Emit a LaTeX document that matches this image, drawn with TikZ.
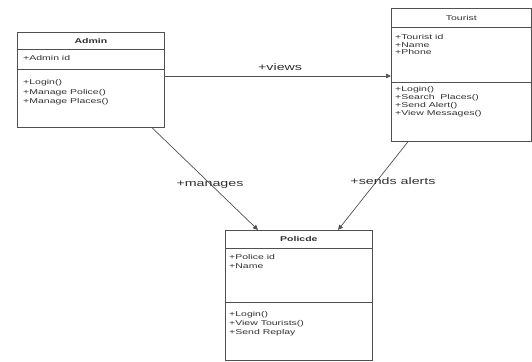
\documentclass[tikz,border=0pt]{standalone}
\usepackage{fontspec}
\setmainfont{Liberation Sans}[FakeStretch=1.5]
\newfontfamily\lblfont{Liberation Sans}[FakeStretch=1.5]
\usetikzlibrary{arrows.meta}
\definecolor{linecol}{HTML}{505050}
\definecolor{txtcol}{HTML}{303030}
\tikzset{
  x=1pt, y=-1pt,
  part/.style={draw=linecol, line width=0.7pt, anchor=north west, inner sep=0pt, minimum width=#1},
  head/.style={font=\fontsize{7}{8}\selectfont\bfseries, text=txtcol, inner sep=0pt},
  memb/.style={font=\fontsize{7}{#1}\selectfont, text=txtcol, align=left, anchor=north west, inner sep=0pt},
  arr/.style={draw=linecol, line width=0.7pt, -{Triangle[length=5pt,width=4.5pt]}},
  lbl/.style={font=\lblfont\fontsize{9.5}{11}\selectfont, text=txtcol, inner sep=0pt}
}
\begin{document}
\begin{tikzpicture}
\useasboundingbox (0,0) rectangle (532,361);
% Admin
\node[part=147pt, minimum height=17pt] (ah) at (17,32) {};
\node[part=147pt, minimum height=20pt] (aa) at (17,49) {};
\node[part=147pt, minimum height=58pt] (am) at (17,69) {};
\node[head] (aht) at (ah.center) {Admin};
\node[memb=9.5] (aat) at (23,55.4) {+Admin id};
\node[memb=9.5] (amt) at (23,79.4) {+Login()\\+Manage Police()\\+Manage Places()};
% Tourist
\node[part=140pt, minimum height=19pt] (th) at (391,8) {};
\node[part=140pt, minimum height=55pt] (ta) at (391,27) {};
\node[part=140pt, minimum height=59pt] (tm) at (391,82) {};
\node[head, font=\fontsize{7}{8}\selectfont] (tht) at (th.center) {Tourist};
\node[memb=7.5] (tat) at (395,34.4) {+Tourist id\\+Name\\+Phone};
\node[memb=8] (tmt) at (395,86.4) {+Login()\\+Search\ \ Places()\\+Send Alert()\\+View Messages()};
% Police
\node[part=147pt, minimum height=18pt] (ph) at (225,230) {};
\node[part=147pt, minimum height=54pt] (pa) at (225,248) {};
\node[part=147pt, minimum height=58pt] (pm) at (225,302) {};
\node[head] (pht) at (ph.center) {Policde};
\node[memb=9] (pat) at (229,254.4) {+Police id\\+Name};
\node[memb=9] (pmt) at (229,311.4) {+Login()\\+View Tourists()\\+Send Replay};
% connectors
\draw[arr] ([yshift=-7pt]am.north east) -- ([yshift=-49pt]ta.north west)
  node[lbl, pos=0.51, above=5pt] (lv) {+views};
\draw[arr] ([xshift=135pt]am.south west) -- ([xshift=33pt]ph.north west);
\node[lbl] (lm) at (210,185) {+manages};
\draw[arr] ([xshift=17pt]tm.south west) -- ([xshift=113pt]ph.north west);
\node[lbl] (ls) at (393,181) {+sends alerts};
\end{tikzpicture}
\end{document}
